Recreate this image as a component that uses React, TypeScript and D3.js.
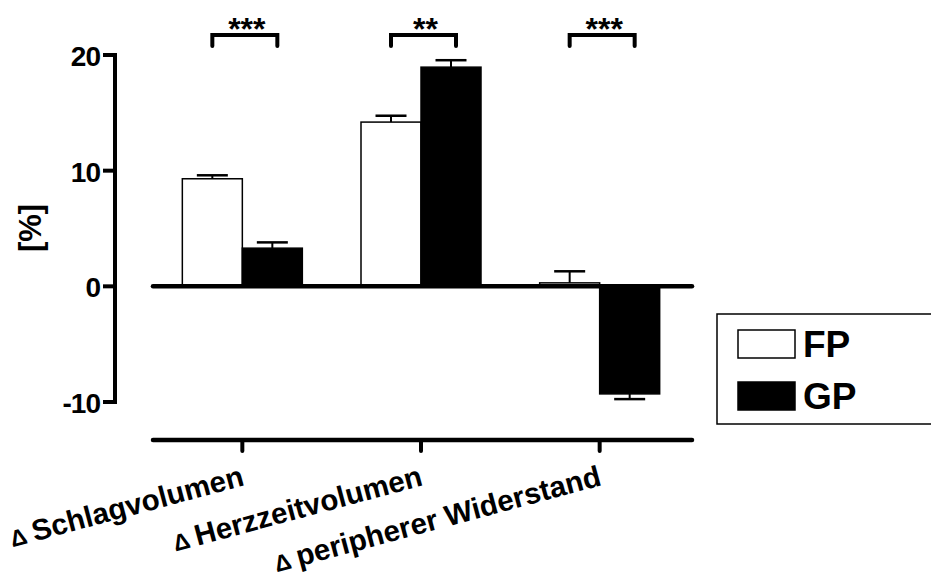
import React from "react";
import * as d3 from "d3";

const categories = ["Schlagvolumen", "Herzzeitvolumen", "peripherer Widerstand"];
const groups = ["FP", "GP"];
const fpValues = [9.3, 14.2, 0.3];
const gpValues = [3.3, 18.95, -9.3];
const fpErrors = [0.3, 0.55, 1.0];
const gpErrors = [0.5, 0.6, 0.45];
const significance = ["***", "**", "***"];
const yTicks = [-10, 0, 10, 20];
const yLabel = "[%]";

const W = 931;
const H = 576;
const FONT = "'Liberation Sans', Arial, Helvetica, sans-serif";

export default function App() {
  const y = d3.scaleLinear().domain([-10, 20]).range([402, 55]);
  const x = d3.scaleBand<string>().domain(categories).range([153, 689]).padding(0);
  const sub = d3.scaleBand<string>().domain(groups).range([-60, 60]).padding(0);
  const cx = (c: string) => (x(c) as number) + x.bandwidth() / 2;
  const values = [fpValues, gpValues];
  const errors = [fpErrors, gpErrors];
  const y0 = y(0);
  const axisX = 115;

  return (
    <svg width={W} height={H} style={{ position: "absolute", left: 0, top: 0, background: "#fff" }} fontFamily={FONT}>
      {/* y axis */}
      <path
        d={`M${axisX - 12},${y(20)}H${axisX}V${y(-10)}H${axisX - 12}`}
        fill="none"
        stroke="#000"
        strokeWidth={4}
        strokeLinejoin="miter"
      />
      {yTicks.map((t) => (
        <g key={t}>
          <line x1={axisX - 12} x2={axisX} y1={y(t)} y2={y(t)} stroke="#000" strokeWidth={4} />
          <text x={100} y={y(t) + 11} textAnchor="end" fontSize={28} fontWeight="bold" letterSpacing={-1}>
            {t}
          </text>
        </g>
      ))}
      <text
        transform={`translate(41,228) rotate(-90)`}
        textAnchor="middle"
        fontSize={31}
        fontWeight="bold"
      >
        {yLabel}
      </text>

      {/* bars */}
      {categories.map((c, i) =>
        groups.map((g, gi) => {
          const v = values[gi][i];
          const e = errors[gi][i];
          const bx = cx(c) + (sub(g) as number);
          const bw = sub.bandwidth();
          const top = Math.min(y(v), y0);
          const h = Math.abs(y(v) - y0);
          const mid = bx + bw / 2;
          const ev = v >= 0 ? v + e : v - e;
          return (
            <g key={c + g}>
              <line x1={mid} x2={mid} y1={y(v)} y2={y(ev)} stroke="#000" strokeWidth={2} />
              <line x1={mid - 15.5} x2={mid + 15.5} y1={y(ev)} y2={y(ev)} stroke="#000" strokeWidth={2.5} />
              <rect
                x={bx}
                y={top}
                width={bw}
                height={h}
                fill={g === "FP" ? "#fff" : "#000"}
                stroke="#000"
                strokeWidth={1.5}
              />
            </g>
          );
        })
      )}

      {/* zero line */}
      <line x1={153} x2={692} y1={y0} y2={y0} stroke="#000" strokeWidth={4.5} strokeLinecap="round" />

      {/* bottom category axis */}
      <line x1={153} x2={692} y1={440} y2={440} stroke="#000" strokeWidth={4.5} strokeLinecap="round" />
      {categories.map((c) => (
        <g key={"t" + c}>
          <line x1={cx(c)} x2={cx(c)} y1={440} y2={451} stroke="#000" strokeWidth={4} strokeLinecap="round" />
          <text
            transform={`translate(${cx(c) + 3},485) rotate(-15)`}
            textAnchor="end"
            fontSize={29.5}
            fontWeight="bold"
          >
            <tspan fontSize={23}>Δ </tspan>
            {c}
          </text>
        </g>
      ))}

      {/* significance brackets */}
      {categories.map((c, i) => {
        const l = cx(c) - 30;
        const r = cx(c) + 35;
        return (
          <g key={"s" + c}>
            <path
              d={`M${l},46 V35 H${r} V46`}
              fill="none"
              stroke="#000"
              strokeWidth={4}
              strokeLinecap="round"
            />
            <text x={(l + r) / 2 + 2} y={40} textAnchor="middle" fontSize={32} fontWeight="bold">
              {significance[i]}
            </text>
          </g>
        );
      })}

      {/* legend */}
      <rect x={717} y={314} width={230} height={110} fill="#fff" stroke="#000" strokeWidth={1.5} />
      {groups.map((g, gi) => (
        <g key={"l" + g}>
          <rect
            x={738}
            y={330 + gi * 52}
            width={57}
            height={28}
            fill={g === "FP" ? "#fff" : "#000"}
            stroke="#000"
            strokeWidth={1.5}
          />
          <text x={803} y={357 + gi * 52} fontSize={37} fontWeight="bold">
            {g}
          </text>
        </g>
      ))}
    </svg>
  );
}
